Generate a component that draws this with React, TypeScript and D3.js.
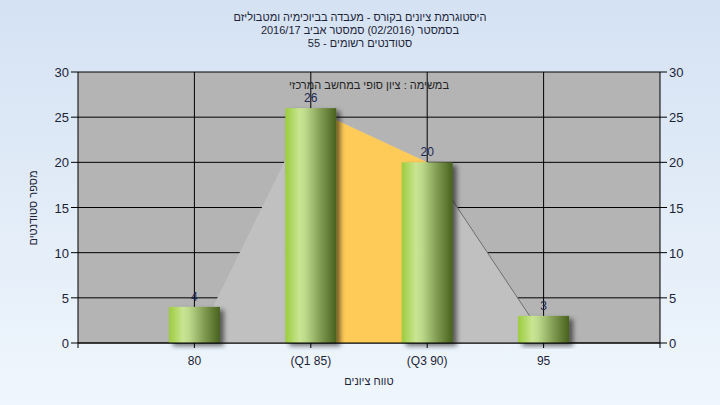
import React from "react";
import * as d3 from "d3";

const titleLines = [
  "היסטוגרמת ציונים בקורס - מעבדה בביוכימיה ומטבוליזם",
  "בסמסטר  (02/2016)  סמסטר אביב 2016/17",
  "סטודנטים רשומים - 55",
];
const subtitle = "במשימה : ציון סופי במחשב המרכזי";
const yTitle = "מספר סטודנטים";
const xTitle = "טווח ציונים";

const grades = [80, 85, 90, 95];
const tickLabels = ["80", "(Q1 85)", "(Q3 90)", "95"];
const counts = [4, 26, 20, 3];

// distribution area series (grade, count)
const areaGrades = [80.8, 85, 90, 94.4];
const areaCounts = [4, 26, 20, 3];
const q1 = 85;
const q3 = 90;

const yTicks = [0, 5, 10, 15, 20, 25, 30];

const W = 720;
const H = 405;
const plot = { left: 78, right: 660, top: 72, bottom: 343 };

export default function App() {
  const x = d3.scaleLinear().domain([75, 100]).range([plot.left, plot.right]);
  const y = d3.scaleLinear().domain([0, 30]).range([plot.bottom, plot.top]);
  const barW = 51;

  const pts = areaGrades.map((g, i) => ({ g, v: areaCounts[i] }));
  const area = d3
    .area<{ g: number; v: number }>()
    .x((d) => x(d.g))
    .y0(y(0))
    .y1((d) => y(d.v));
  const line = d3
    .line<{ g: number; v: number }>()
    .x((d) => x(d.g))
    .y((d) => y(d.v));
  const midPts = pts.filter((p) => p.g >= q1 && p.g <= q3);
  const rightPts = pts.filter((p) => p.g >= q3);

  const font = "'Liberation Sans', Arial, sans-serif";
  const textCol = "#1c2436";

  return (
    <div style={{ position: "fixed", left: 0, top: 0, width: W, height: H }}>
      <svg width={W} height={H} style={{ display: "block" }} fontFamily={font}>
        <defs>
          <linearGradient id="bg" x1="0" y1="0" x2="0" y2="1">
            <stop offset="0%" stopColor="#d5e2f3" />
            <stop offset="100%" stopColor="#eff6fd" />
          </linearGradient>
          <linearGradient id="bar" x1="0" y1="0" x2="1" y2="0">
            <stop offset="0%" stopColor="#9ccc3e" />
            <stop offset="28%" stopColor="#c9e593" />
            <stop offset="40%" stopColor="#bcd98a" />
            <stop offset="70%" stopColor="#7f9a50" />
            <stop offset="100%" stopColor="#48611e" />
          </linearGradient>
          <filter id="shadow" x="-30%" y="-10%" width="160%" height="130%">
            <feDropShadow dx="4" dy="3" stdDeviation="2.5" floodColor="#000" floodOpacity="0.55" />
          </filter>
        </defs>
        <rect x={0} y={0} width={W} height={H} fill="url(#bg)" />

        {titleLines.map((t, i) => (
          <text
            key={i}
            x={360}
            y={21 + i * 13}
            textAnchor="middle"
            direction="rtl"
            fontSize={11}
            fill={textCol}
          >
            {t}
          </text>
        ))}

        <rect
          x={plot.left}
          y={plot.top}
          width={plot.right - plot.left}
          height={plot.bottom - plot.top}
          fill="#b4b4b4"
        />

        {yTicks.map((t) => (
          <line key={"h" + t} x1={plot.left} x2={plot.right} y1={y(t)} y2={y(t)} stroke="#000" />
        ))}
        {grades.map((g) => (
          <line key={"v" + g} x1={x(g)} x2={x(g)} y1={plot.top} y2={plot.bottom} stroke="#000" />
        ))}

        <path d={area(pts) || ""} fill="#c0c0c0" />
        <path d={area(midPts) || ""} fill="#ffcb58" />
        <path d={line(rightPts) || ""} fill="none" stroke="#6e6e6e" strokeWidth={1} />

        {grades.map((g, i) => (
          <rect
            key={"b" + g}
            x={x(g) - barW / 2}
            y={y(counts[i])}
            width={barW}
            height={y(0) - y(counts[i])}
            fill="url(#bar)"
            filter="url(#shadow)"
          />
        ))}

        <text x={(plot.left + plot.right) / 2} y={89} textAnchor="middle" direction="rtl" fontSize={11} fill="#222">
          {subtitle}
        </text>

        {grades.map((g, i) => (
          <text key={"l" + g} x={x(g)} y={y(counts[i]) - 6} textAnchor="middle" fontSize={12} fill="#1b2a50">
            {counts[i]}
          </text>
        ))}

        {/* axes */}
        <line x1={plot.left} x2={plot.left} y1={plot.top} y2={plot.bottom + 5} stroke="#000" />
        <line x1={plot.right} x2={plot.right} y1={plot.top} y2={plot.bottom + 5} stroke="#000" />
        <line x1={plot.left} x2={plot.right} y1={plot.bottom} y2={plot.bottom} stroke="#000" />

        {yTicks.map((t) => (
          <g key={"yt" + t}>
            <line x1={plot.left - 7} x2={plot.left} y1={y(t)} y2={y(t)} stroke="#000" />
            <text x={plot.left - 9} y={y(t) + 5} textAnchor="end" fontSize={13} fill={textCol}>
              {t}
            </text>
            <line x1={plot.right} x2={plot.right + 7} y1={y(t)} y2={y(t)} stroke="#000" />
            <text x={plot.right + 9} y={y(t) + 5} textAnchor="start" fontSize={13} fill={textCol}>
              {t}
            </text>
          </g>
        ))}

        {grades.map((g, i) => (
          <g key={"xt" + g}>
            <line x1={x(g)} x2={x(g)} y1={plot.bottom} y2={plot.bottom + 5} stroke="#000" />
            <text x={x(g)} y={365} textAnchor="middle" fontSize={12} fill={textCol}>
              {tickLabels[i]}
            </text>
          </g>
        ))}

        <text x={369} y={385} textAnchor="middle" direction="rtl" fontSize={11} fill={textCol}>
          {xTitle}
        </text>
        <text
          transform={`translate(37, 208) rotate(-90)`}
          textAnchor="middle"
          direction="rtl"
          fontSize={11}
          fill={textCol}
        >
          {yTitle}
        </text>
      </svg>
    </div>
  );
}
